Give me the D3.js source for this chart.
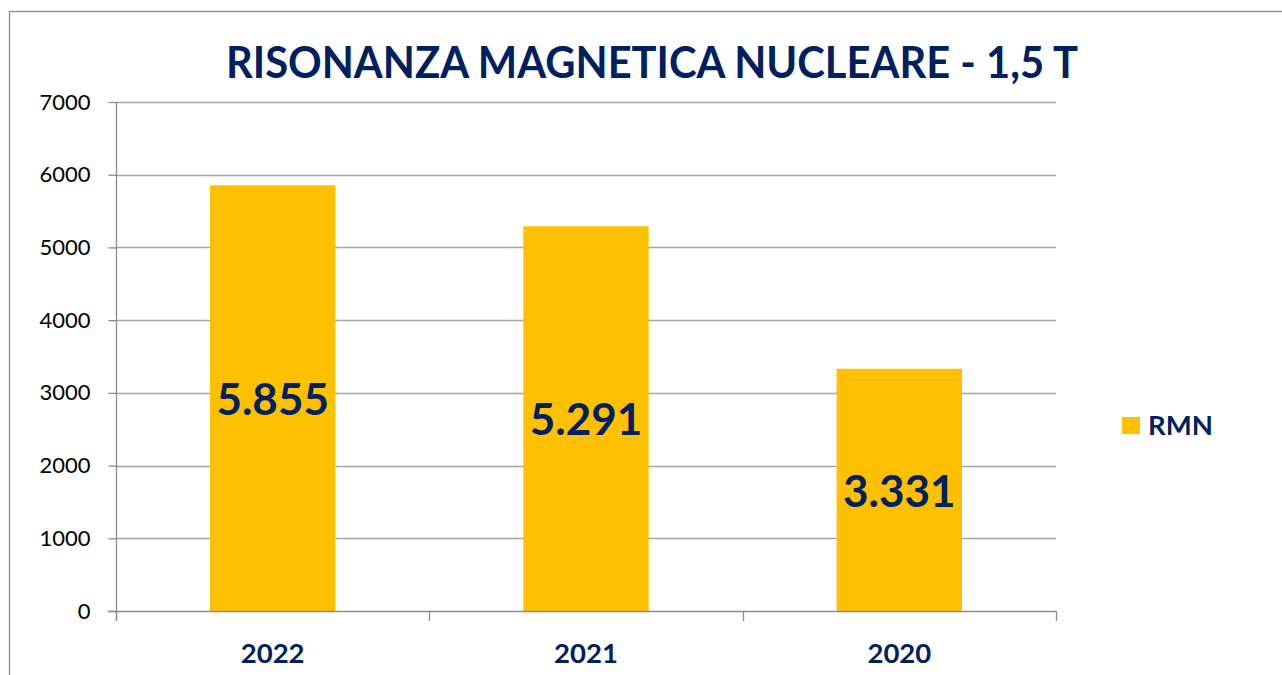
<!DOCTYPE html>
<html><head><meta charset="utf-8">
<script src="https://cdn.jsdelivr.net/npm/d3@7"></script>
<style>html,body{margin:0;padding:0;background:#fff;}svg{display:block;}</style>
</head><body>
<script>
const categories = ["2022", "2021", "2020"];
const values = [5855, 5291, 3331];
const valueLabels = ["5.855", "5.291", "3.331"];
const yTicks = [0, 1000, 2000, 3000, 4000, 5000, 6000, 7000];
const seriesName = "RMN";
const title = "RISONANZA MAGNETICA NUCLEARE - 1,5 T";

(function () {
const W = 1282, H = 675;
const navy = "#002060", gold = "#FFC000", axisCol = "#8c8c8c", gridCol = "#a6a6a6";
const font = "Lato, 'Open Sans', sans-serif";

const svg = d3.select("body").append("svg").attr("width", W).attr("height", H);
svg.append("rect").attr("x", 9.5).attr("y", 11.5).attr("width", 1300).attr("height", 700)
  .attr("fill", "#fff").attr("stroke", axisCol).attr("stroke-width", 1.3);

const pL = 116, pR = 1056, pT = 102, pB = 611;
const x = d3.scaleBand().domain(categories).range([pL, pR]).paddingInner(0.6).paddingOuter(0.3);
const xb = d3.scaleBand().domain(categories).range([pL, pR]);
const y = d3.scaleLinear().domain([0, 7000]).range([pB, pT]);

// gridlines
svg.append("g").selectAll("line").data(yTicks.filter(d => d > 0)).join("line")
  .attr("x1", pL).attr("x2", pR).attr("y1", d => Math.round(y(d)) + 0.5).attr("y2", d => Math.round(y(d)) + 0.5)
  .attr("stroke", gridCol).attr("stroke-width", 1.3);

// bars
svg.append("g").selectAll("rect").data(values).join("rect")
  .attr("x", (d, i) => x(categories[i])).attr("width", x.bandwidth())
  .attr("y", d => y(d)).attr("height", d => y(0) - y(d)).attr("fill", gold);

// y axis
const yAxis = svg.append("g").attr("transform", `translate(${pL + 0.5},0)`)
  .call(d3.axisLeft(y).tickValues(yTicks).tickSize(8).tickPadding(18).tickFormat(d3.format("d")));
yAxis.select(".domain").attr("stroke", axisCol).attr("stroke-width", 1.3).attr("d", `M0,${pT}V${pB + 10}`);
yAxis.selectAll(".tick line").attr("stroke", axisCol).attr("stroke-width", 1.3);
yAxis.selectAll(".tick text").attr("font-family", font).attr("font-size", 22).attr("fill", "#000");

// x axis
const xAxis = svg.append("g").attr("transform", `translate(0,${Math.round(y(0)) + 0.5})`)
  .call(d3.axisBottom(xb).tickSize(0).tickPadding(32));
xAxis.select(".domain").attr("stroke", axisCol).attr("stroke-width", 1.3).attr("d", `M${pL - 8},0H${pR}`);
xAxis.selectAll(".tick text").attr("font-family", font).attr("font-size", 27.5).attr("font-weight", "bold").attr("fill", navy);
svg.append("g").selectAll("line").data(d3.range(categories.length + 1)).join("line")
  .attr("x1", i => Math.round(pL + i * xb.bandwidth()) + 0.5).attr("x2", i => Math.round(pL + i * xb.bandwidth()) + 0.5)
  .attr("y1", pB).attr("y2", pB + 10).attr("stroke", axisCol).attr("stroke-width", 1.3);

// value labels
svg.append("g").selectAll("text").data(values).join("text")
  .attr("x", (d, i) => x(categories[i]) + x.bandwidth() / 2)
  .attr("y", d => (y(d) + y(0)) / 2).attr("dy", "0.38em")
  .attr("text-anchor", "middle").attr("font-family", font).attr("font-weight", "bold")
  .attr("font-size", 44).attr("fill", navy).text((d, i) => valueLabels[i]);

// title
svg.append("text").attr("x", 652).attr("y", 78).attr("text-anchor", "middle")
  .attr("font-family", font).attr("font-weight", "bold").attr("font-size", 43).attr("fill", navy)
  .attr("textLength", 852).attr("lengthAdjust", "spacingAndGlyphs").text(title);

// legend
svg.append("rect").attr("x", 1122).attr("y", 417).attr("width", 18).attr("height", 17).attr("fill", gold);
svg.append("text").attr("x", 1148).attr("y", 434.5).attr("font-family", font).attr("font-weight", "bold")
  .attr("font-size", 27.5).attr("fill", navy).text(seriesName);
})();
</script>
</body></html>
